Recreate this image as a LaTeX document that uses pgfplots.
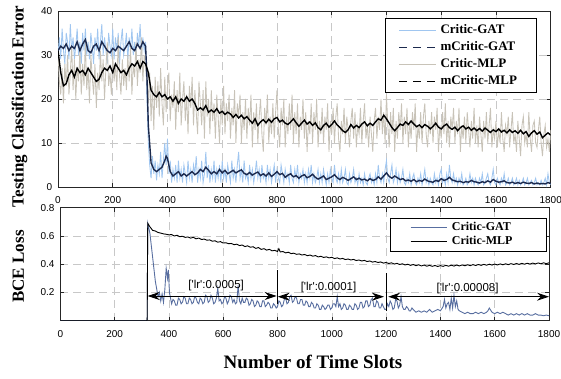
\documentclass[border=0pt]{standalone}
\usepackage{pgfplots}
\pgfplotsset{compat=1.18}
\usetikzlibrary{arrows.meta}
\usepackage{fontspec}
\setmainfont{Liberation Serif}
\setsansfont{Liberation Sans}
\definecolor{gatraw}{RGB}{160,198,240}
\definecolor{gatavg}{RGB}{28,42,78}
\definecolor{mlpraw}{RGB}{200,195,184}
\definecolor{gatbce}{RGB}{88,110,160}
\definecolor{gridc}{RGB}{200,200,200}
\pgfplotsset{
  mystyle/.style={
    scale only axis,
    xmin=0, xmax=1800,
    xtick={0,200,...,1800},
    tick align=inside,
    major tick length=4pt,
    axis line style={black!85, line width=0.6pt},
    every tick/.style={black!85, line width=0.6pt},
    grid=major,
    major grid style={gridc, dash pattern=on 8pt off 5pt, line width=0.5pt},
    tick label style={font=\sffamily\fontsize{10}{12}\selectfont},
    /pgf/number format/assume math mode=true,
    /pgf/number format/1000 sep={},
    xticklabel style={yshift=-6pt},
    yticklabel style={xshift=-2.3pt},
  }
}
\tikzset{myarrow/.style={{Stealth[length=12pt,width=8pt,inset=4pt]}-{Stealth[length=12pt,width=8pt,inset=4pt]}}}
\begin{document}
\begin{tikzpicture}
\path[use as bounding box] (0pt,0pt) rectangle (561pt,-378pt);
% ---------------- top axis ----------------
\begin{axis}[mystyle,
  at={(58pt,-187pt)}, anchor=south west,
  width=492.7pt, height=176pt,
  ymin=0, ymax=40, ytick={0,10,20,30,40},
  legend style={at={(0.6643,0.9585)}, anchor=north west, draw=black, line width=0.6pt, fill=white,
    inner xsep=13pt, inner ysep=3pt, row sep=0pt,
    font=\bfseries\fontsize{13}{15}\selectfont,
    nodes={inner xsep=4.3pt, inner ysep=2pt, text height=10pt, text depth=3pt, text width=78pt, align=left}},
  legend cell align=left,
  legend image code/.code={\draw[#1] (0pt,0pt) -- (36.7pt,0pt);},
]
\addplot[gatraw, line width=0.85pt, forget plot] coordinates {
(0,30)(5,34)(10,29)(15,36)(20,31)(25,28)(30,35)(35,33)(40,29)(45,37)(50,31)(55,34)(60,29)(65,32)(70,36)(75,30)(80,33)(85,28)(90,35)(95,31)(100,36)(105,30)(110,33)(115,29)(120,35)(125,32)(130,28)(135,34)(140,31)(145,36)(150,29)(155,33)(160,37)(165,30)(170,34)(175,31)(180,28)(185,35)(190,32)(195,30)(200,36)(205,29)(210,34)(215,31)(220,35)(225,28)(230,33)(235,36)(240,30)(245,32)(250,35)(255,29)(260,34)(265,31)(270,36)(275,30)(280,33)(285,29)(290,35)(295,32)(300,37)(305,30)(310,34)(315,31)(320,33)
(325,20)(330,10)(335,5)(340,2)(345,7)(350,3)(355,6)(360,1.5)(365,5)(370,3)(375,8)(380,2)(385,6)(390,10)(395,5)(400,11)(405,3)(410,6)(415,1)(420,4)(425,2)(430,5)(435,1)(440,6)(445,2)(450,4)(455,1)(460,5)(465,3)(470,1)(475,6)(480,2)(485,4)(490,1)(495,5)(500,3)(505,7)(510,1)(515,4)(520,2)(525,6)(530,1)(535,3)(540,8)(545,2)(550,5)(555,1)(560,4)(565,2)(570,6)(575,1)(580,4)(585,2)(590,5)(595,1)(600,6)(605,2)(610,4)(615,1)(620,5)(625,3)(630,1)(635,6)(640,2)(645,4)(650,1)(655,5)(660,8)(665,2)(670,4)(675,1)(680,6)(685,2)(690,3)(695,1)(700,5)(705,2)(710,4)(715,1)(720,3)(725,6)(730,2)(735,4)(740,1)(745,5)(750,2)(755,3)(760,1)(765,5)(770,2)(775,4)(780,1)(785,3)(790,5)(795,1)
(800,4)(805,2)(810,1)(815,5)(820,3)(825,1)(830,4)(835,2)(840,3)(845,1)(850,5)(855,2)(860,1)(865,4)(870,2)(875,5)(880,1)(885,3)(890,2)(895,4)(900,1)(905,3)(910,1)(915,4)(920,2)(925,5)(930,1)(935,3)(940,1)(945,2)(950,4)(955,1)(960,3)(965,1)(970,4)(975,2)(980,0.5)(985,3)(990,1)(995,4)(1000,2)(1005,1)(1010,5)(1015,2)(1020,1)(1025,3)(1030,1)(1035,4)(1040,1)(1045,2)(1050,4)(1055,1)(1060,0.5)(1065,3)(1070,1)(1075,2)(1080,4)(1085,1)(1090,2)(1095,0.5)(1100,3)(1105,1)(1110,2)(1115,0.5)(1120,3)(1125,1)(1130,0.5)(1135,2)(1140,3)(1145,1)(1150,2)(1155,0.5)(1160,3)(1165,1)(1170,5)(1175,2)(1180,1)(1185,3)(1190,1)(1195,4)
(1200,6)(1205,2)(1210,1)(1215,3)(1220,5)(1225,1)(1230,2)(1235,4)(1240,1)(1245,3)(1250,1)(1255,2)(1260,4)(1265,1)(1270,0.5)(1275,2)(1280,1)(1285,3)(1290,0.5)(1295,2)(1300,3)(1305,1)(1310,0.5)(1315,2)(1320,1)(1325,3)(1330,0.5)(1335,2)(1340,4)(1345,1)(1350,2)(1355,0.5)(1360,2)(1365,1)(1370,0.5)(1375,3)(1380,1)(1385,2)(1390,0.5)(1395,3)(1400,4)(1405,1)(1410,2)(1415,0.5)(1420,3)(1425,1)(1430,5)(1435,2)(1440,1)(1445,3)(1450,1)(1455,2)(1460,0.5)(1465,2)(1470,1)(1475,3)(1480,0.5)(1485,1)(1490,2)(1495,0.5)(1500,1)(1505,3)(1510,1)(1515,2)(1520,0.5)(1525,2)(1530,1)(1535,0.5)(1540,2)(1545,1)(1550,3)(1555,0.5)(1560,1)(1565,2)(1570,3)(1575,1)(1580,0.5)(1585,2)(1590,4)(1595,1)
(1600,0.5)(1605,2)(1610,1)(1615,0.5)(1620,2)(1625,1)(1630,3)(1635,0.5)(1640,1)(1645,2)(1650,0.5)(1655,1)(1660,2)(1665,0.5)(1670,1)(1675,2)(1680,0.5)(1685,1.5)(1690,0.5)(1695,1)(1700,2)(1705,0.5)(1710,1)(1715,2)(1720,0.5)(1725,1)(1730,1.5)(1735,0.5)(1740,1)(1745,2)(1750,0.5)(1755,1)(1760,0.5)(1765,1.5)(1770,0.5)(1775,1)(1780,2)(1785,0.5)(1790,3)(1795,1)(1800,0.5)
};
\addplot[mlpraw, line width=0.85pt, forget plot] coordinates {
(0,31)(5,24)(10,21)(15,27)(20,19)(25,28)(30,23)(35,30)(40,21)(45,26)(50,32)(55,22)(60,29)(65,20)(70,27)(75,24)(80,31)(85,21)(90,28)(95,23)(100,33)(105,22)(110,27)(115,19)(120,30)(125,25)(130,21)(135,28)(140,18)(145,26)(150,22)(155,31)(160,24)(165,29)(170,20)(175,27)(180,33)(185,23)(190,26)(195,21)(200,30)(205,24)(210,28)(215,22)(220,34)(225,25)(230,21)(235,29)(240,23)(245,27)(250,22)(255,30)(260,24)(265,32)(270,21)(275,28)(280,25)(285,33)(290,23)(295,29)(300,26)(305,34)(310,24)(315,30)(320,27)
(325,24)(330,19)(335,26)(340,15)(345,23)(350,13)(355,25)(360,18)(365,24)(370,16)(375,27)(380,19)(385,14)(390,25)(395,17)(400,23)(405,26)(410,15)(415,21)(420,18)(425,24)(430,13)(435,22)(440,17)(445,26)(450,14)(455,20)(460,24)(465,15)(470,21)(475,12)(480,23)(485,18)(490,25)(495,14)(500,22)(505,17)(510,12)(515,24)(520,19)(525,14)(530,22)(535,11)(540,24)(545,16)(550,20)(555,12)(560,22)(565,15)(570,19)(575,11)(580,21)(585,16)(590,10)(595,20)(600,14)(605,23)(610,12)(615,19)(620,15)(625,21)(630,11)(635,18)(640,14)(645,22)(650,10)(655,19)(660,16)(665,21)(670,10)(675,17)(680,13)(685,20)(690,11)(695,18)(700,14)(705,21)(710,9)(715,17)(720,13)(725,19)(730,10)(735,16)(740,20)(745,12)(750,8)(755,18)(760,14)(765,21)(770,10)(775,16)(780,12)(785,19)(790,11)(795,17)
(800,22)(805,13)(810,9)(815,18)(820,14)(825,20)(830,9)(835,16)(840,12)(845,19)(850,13)(855,21)(860,10)(865,17)(870,12)(875,19)(880,9)(885,16)(890,13)(895,20)(900,11)(905,17)(910,8)(915,15)(920,12)(925,19)(930,10)(935,17)(940,13)(945,20)(950,9)(955,15)(960,12)(965,18)(970,10)(975,16)(980,13)(985,19)(990,8)(995,15)(1000,12)(1005,18)(1010,10)(1015,16)(1020,19)(1025,11)(1030,8)(1035,15)(1040,12)(1045,18)(1050,10)(1055,16)(1060,13)(1065,9)(1070,15)(1075,18)(1080,11)(1085,17)(1090,9)(1095,14)(1100,12)(1105,18)(1110,10)(1115,15)(1120,19)(1125,11)(1130,14)(1135,9)(1140,16)(1145,12)(1150,8)(1155,15)(1160,18)(1165,11)(1170,16)(1175,13)(1180,20)(1185,12)(1190,17)(1195,10)
(1200,21)(1205,14)(1210,9)(1215,17)(1220,12)(1225,18)(1230,8)(1235,15)(1240,11)(1245,17)(1250,13)(1255,19)(1260,10)(1265,16)(1270,12)(1275,18)(1280,9)(1285,15)(1290,11)(1295,17)(1300,13)(1305,19)(1310,8)(1315,14)(1320,11)(1325,17)(1330,10)(1335,16)(1340,19)(1345,12)(1350,9)(1355,15)(1360,12)(1365,17)(1370,10)(1375,16)(1380,13)(1385,18)(1390,8)(1395,14)(1400,11)(1405,17)(1410,12)(1415,19)(1420,10)(1425,15)(1430,9)(1435,16)(1440,13)(1445,18)(1450,10)(1455,15)(1460,12)(1465,18)(1470,8)(1475,14)(1480,11)(1485,16)(1490,10)(1495,17)(1500,13)(1505,9)(1510,15)(1515,11)(1520,18)(1525,10)(1530,14)(1535,9)(1540,16)(1545,12)(1550,8)(1555,15)(1560,11)(1565,17)(1570,10)(1575,14)(1580,18)(1585,9)(1590,13)(1595,11)
(1600,15)(1605,9)(1610,13)(1615,10)(1620,17)(1625,11)(1630,8)(1635,14)(1640,12)(1645,16)(1650,9)(1655,13)(1660,17)(1665,10)(1670,12)(1675,8)(1680,15)(1685,11)(1690,7)(1695,14)(1700,16)(1705,10)(1710,12)(1715,9)(1720,17)(1725,11)(1730,8)(1735,14)(1740,15)(1745,10)(1750,9)(1755,13)(1760,16)(1765,10)(1770,7)(1775,12)(1780,14)(1785,9)(1790,11)(1795,8)(1800,13)
};
\addplot[gatavg, line width=1.4pt, forget plot] coordinates {
(0,31)(10,32)(20,31.5)(30,32.5)(40,31)(50,32)(60,31.5)(70,33)(80,31)(90,32.5)(100,33.5)(110,31)(120,30.5)(130,32)(140,32.5)(150,31)(160,33)(170,32)(180,31)(190,30.5)(200,31.5)(210,31)(220,32)(230,31.5)(240,31)(250,32)(260,33)(270,31.5)(280,31)(290,32.5)(300,31.5)(310,33)(320,32)(325,25)(330,14)(340,5.5)(350,4)(360,3.5)(370,4)(380,4.5)(390,6)(395,7)(400,6.5)(410,3.5)(420,2.5)(430,3)(440,3.5)(450,2.5)(460,3)(470,2.5)(480,3)(490,3.5)(500,2.8)(510,3.2)(520,4)(530,3.5)(540,4.5)(550,3.8)(560,3)(570,3.5)(580,3)(590,4)(600,3.2)(610,3.8)(620,3)(630,3.4)(640,3.8)(650,3.2)(660,3.6)(670,3.9)(680,3.1)(690,2.8)(700,3.3)(710,2.7)(720,3.1)(730,3.4)(740,2.6)(750,3)(760,2.5)(770,3.2)(780,2.4)(790,2.9)(800,3.5)(810,2.8)(820,3.1)(830,2.2)(840,2.7)(850,3)(860,2.3)(870,2.6)(880,2)(890,2.5)(900,2.8)(910,2.1)(920,2.4)(930,2.9)(940,2.2)(950,1.8)(960,2.1)(970,2.5)(980,1.7)(990,2)(1000,2.3)(1010,2.8)(1020,2.1)(1030,1.7)(1040,2.2)(1050,1.9)(1060,1.5)(1070,1.9)(1080,2.3)(1090,1.7)(1100,2)(1110,1.6)(1120,1.8)(1130,1.4)(1140,1.9)(1150,1.5)(1160,1.7)(1170,2.3)(1180,1.8)(1190,2.5)(1200,3.2)(1210,2.4)(1220,2)(1230,2.5)(1240,2.1)(1250,1.7)(1260,1.9)(1270,1.4)(1280,1.6)(1290,1.3)(1300,1.7)(1310,1.2)(1320,1.5)(1330,1.3)(1340,1.8)(1350,1.4)(1360,1.2)(1370,1.1)(1380,1.5)(1390,1.3)(1400,1.9)(1410,1.5)(1420,1.7)(1430,2.2)(1440,1.6)(1450,1.4)(1460,1.2)(1470,1.3)(1480,1)(1490,1.2)(1500,1.1)(1510,1.5)(1520,1.2)(1530,1.1)(1540,0.9)(1550,1.2)(1560,1)(1570,1.4)(1580,1.1)(1590,1.7)(1600,1.3)(1610,1.1)(1620,1.2)(1630,1.4)(1640,1)(1650,0.9)(1660,1.1)(1670,0.8)(1680,1)(1690,0.8)(1700,1.1)(1710,0.9)(1720,0.8)(1730,1)(1740,0.7)(1750,0.9)(1760,0.7)(1770,0.8)(1780,0.7)(1790,1)(1800,0.8)
};
\addplot[black, line width=1.4pt, forget plot] coordinates {
(0,31)(10,26)(20,23)(30,23.5)(40,25.5)(50,26.5)(60,25)(70,27)(80,26)(90,26.5)(100,25.5)(110,27)(120,26)(130,25)(140,24)(150,24.5)(160,26)(170,27)(180,26.5)(190,27.5)(200,26)(210,28)(220,27)(230,26)(240,26.5)(250,25.5)(260,27)(270,28)(280,27.5)(290,28.5)(300,27)(310,28.5)(320,28)(330,26)(340,22)(350,21)(360,20.5)(370,21.5)(380,20.5)(390,21)(400,20)(410,20.5)(420,19.5)(430,20.5)(440,19)(450,20)(460,19.5)(470,20.5)(480,19.5)(490,20)(500,19)(510,17.5)(520,18)(530,17.5)(540,18.5)(550,17)(560,17.5)(570,17)(580,17.8)(590,16.8)(600,17.2)(610,16.5)(620,17)(630,16.6)(640,15.8)(650,16.5)(660,15.7)(670,16.3)(680,15.5)(690,16)(700,15.2)(710,14.5)(720,15.5)(730,14)(740,14.8)(750,15.3)(760,14.6)(770,15.4)(780,14.7)(790,15.5)(800,15.8)(810,14.8)(820,15.2)(830,14.5)(840,14.2)(850,14.8)(860,15.5)(870,14.6)(880,13.8)(890,14.5)(900,15.2)(910,14.3)(920,14.8)(930,14)(940,14.6)(950,13.5)(960,13)(970,14)(980,14.5)(990,13.6)(1000,14.2)(1010,15)(1020,14.1)(1030,13.5)(1040,12.8)(1050,12.4)(1060,13)(1070,14.2)(1080,13.4)(1090,14)(1100,13.5)(1110,14.3)(1120,14.8)(1130,13.9)(1140,14.5)(1150,14)(1160,14.8)(1170,15.5)(1180,15.2)(1190,16.3)(1200,15.5)(1210,14.5)(1220,13.5)(1230,12.8)(1240,13.5)(1250,14.3)(1260,14)(1270,14.8)(1280,14.2)(1290,15)(1300,14.3)(1310,13.7)(1320,14.1)(1330,13.5)(1340,14.2)(1350,13.8)(1360,13.2)(1370,13.8)(1380,14.5)(1390,13.6)(1400,13.2)(1410,13.9)(1420,14.3)(1430,13.5)(1440,13.1)(1450,13.6)(1460,12.8)(1470,13.5)(1480,13.9)(1490,13.2)(1500,13.6)(1510,12.9)(1520,13.4)(1530,12.8)(1540,13.3)(1550,12.7)(1560,13.4)(1570,12.9)(1580,12.4)(1590,13)(1600,12.6)(1610,13.2)(1620,12.5)(1630,12.9)(1640,12.3)(1650,13)(1660,12.4)(1670,12.8)(1680,12.2)(1690,12.9)(1700,12.1)(1710,12.6)(1720,11.5)(1730,12.3)(1740,12.8)(1750,12)(1760,12.5)(1770,11.2)(1780,11.8)(1790,12.3)(1800,11.8)
};
\addlegendimage{gatraw, line width=0.9pt}
\addlegendentry{Critic-GAT}
\addlegendimage{gatavg, line width=0.9pt, dash pattern=on 8pt off 6pt}
\addlegendentry{mCritic-GAT}
\addlegendimage{mlpraw, line width=0.9pt}
\addlegendentry{Critic-MLP}
\addlegendimage{black, line width=0.9pt, dash pattern=on 8pt off 6pt}
\addlegendentry{mCritic-MLP}
\end{axis}
% ---------------- bottom axis ----------------
\begin{axis}[mystyle,
  at={(60.3pt,-320.7pt)}, anchor=south west,
  width=488.7pt, height=113pt,
  ymin=0, ymax=0.8, ytick={0.2,0.4,0.6,0.8},
  yticklabel style={/pgf/number format/fixed, /pgf/number format/fixed zerofill, /pgf/number format/precision=1},
  legend style={at={(0.6746,0.906)}, anchor=north west, draw=black, line width=0.6pt, fill=white,
    inner xsep=20pt, inner ysep=2.2pt, row sep=0pt,
    font=\bfseries\fontsize{12}{14}\selectfont,
    nodes={inner xsep=4pt, inner ysep=1pt, text height=9pt, text depth=3pt, text width=70pt, align=left}},
  legend cell align=left,
  legend image code/.code={\draw[#1] (0pt,0pt) -- (36.7pt,0pt);},
]
\addplot[gatbce, line width=0.9pt] coordinates {
(0,0)(320,0)(322,0.69)(330,0.62)(340,0.45)(350,0.28)(360,0.17)(365,0.2)(370,0.14)(375,0.19)(380,0.13)(385,0.22)(390,0.37)(395,0.3)(398,0.36)(402,0.2)(410,0.12)(415,0.15)(420,0.14)(425,0.11)(430,0.11)(435,0.16)(440,0.15)(445,0.12)(450,0.13)(455,0.17)(460,0.16)(465,0.12)(470,0.12)(475,0.16)(480,0.15)(485,0.12)(490,0.13)(495,0.17)(500,0.16)(505,0.13)(510,0.12)(515,0.16)(520,0.15)(525,0.12)(530,0.13)(535,0.18)(540,0.17)(545,0.13)(550,0.14)(555,0.18)(560,0.16)(565,0.12)(570,0.13)(575,0.16)(580,0.23)(585,0.14)(590,0.15)(595,0.12)(600,0.13)(605,0.17)(610,0.16)(615,0.12)(620,0.14)(625,0.18)(630,0.17)(635,0.13)(640,0.15)(645,0.12)(650,0.13)(655,0.25)(660,0.14)(665,0.12)(670,0.16)(675,0.13)(680,0.13)(685,0.16)(690,0.15)(695,0.11)(700,0.12)(705,0.15)(710,0.14)(715,0.1)(720,0.11)(725,0.14)(730,0.13)(735,0.1)(740,0.1)(745,0.14)(750,0.14)(755,0.1)(760,0.11)(765,0.13)(770,0.12)(775,0.09)(780,0.09)(785,0.12)(790,0.11)(795,0.09)(800,0.1)(805,0.14)(810,0.13)(815,0.1)(820,0.11)(825,0.15)(830,0.16)(835,0.12)(840,0.13)(845,0.17)(850,0.18)(855,0.13)(860,0.14)(865,0.17)(870,0.16)(875,0.12)(880,0.12)(885,0.15)(890,0.15)(895,0.11)(900,0.11)(905,0.14)(910,0.13)(915,0.1)(920,0.1)(925,0.13)(930,0.12)(935,0.09)(940,0.09)(945,0.12)(950,0.11)(955,0.08)(960,0.08)(965,0.11)(970,0.1)(975,0.08)(980,0.09)(985,0.11)(990,0.11)(995,0.08)(1000,0.09)(1005,0.12)(1010,0.12)(1015,0.1)(1020,0.17)(1025,0.1)(1030,0.12)(1035,0.08)(1040,0.09)(1045,0.12)(1050,0.11)(1055,0.08)(1060,0.08)(1065,0.11)(1070,0.1)(1075,0.08)(1080,0.08)(1085,0.12)(1090,0.11)(1095,0.08)(1100,0.09)(1105,0.13)(1110,0.13)(1115,0.09)(1120,0.1)(1125,0.14)(1130,0.14)(1135,0.1)(1140,0.11)(1145,0.15)(1150,0.16)(1155,0.1)(1160,0.1)(1165,0.14)(1170,0.13)(1175,0.09)(1180,0.09)(1185,0.12)(1190,0.1)(1195,0.08)(1200,0.08)(1205,0.12)(1210,0.1)(1215,0.14)(1220,0.12)(1225,0.08)(1230,0.09)(1235,0.15)(1240,0.14)(1245,0.09)(1250,0.11)(1255,0.17)(1260,0.1)(1265,0.08)(1270,0.08)(1275,0.1)(1280,0.09)(1285,0.07)(1290,0.07)(1295,0.09)(1300,0.08)(1310,0.06)(1320,0.07)(1330,0.06)(1340,0.07)(1350,0.06)(1360,0.08)(1370,0.06)(1380,0.07)(1390,0.08)(1400,0.07)(1410,0.1)(1415,0.15)(1420,0.09)(1425,0.12)(1430,0.13)(1435,0.08)(1440,0.16)(1445,0.09)(1450,0.18)(1455,0.1)(1460,0.14)(1465,0.08)(1470,0.07)(1480,0.06)(1490,0.05)(1500,0.06)(1510,0.05)(1520,0.05)(1530,0.06)(1540,0.05)(1550,0.06)(1560,0.05)(1570,0.06)(1575,0.07)(1580,0.09)(1590,0.06)(1600,0.05)(1610,0.06)(1620,0.05)(1630,0.06)(1640,0.05)(1650,0.04)(1660,0.05)(1670,0.04)(1680,0.05)(1690,0.04)(1700,0.05)(1710,0.04)(1720,0.05)(1730,0.04)(1740,0.04)(1750,0.05)(1760,0.04)(1770,0.04)(1780,0.035)(1790,0.04)(1800,0.035)
};
\addlegendentry{Critic-GAT}
\addplot[black, line width=0.9pt] coordinates {
(0,0)(320,0)(322,0.69)(330,0.665)(340,0.64)(350,0.635)(360,0.625)(370,0.62)(380,0.615)(390,0.612)(400,0.608)(410,0.61)(420,0.6)(430,0.605)(440,0.595)(450,0.598)(460,0.59)(470,0.593)(480,0.585)(490,0.59)(500,0.58)(510,0.585)(520,0.575)(530,0.578)(540,0.57)(550,0.572)(560,0.563)(570,0.566)(580,0.556)(590,0.56)(600,0.55)(610,0.552)(620,0.545)(630,0.547)(640,0.538)(650,0.542)(660,0.532)(670,0.536)(680,0.525)(690,0.53)(700,0.52)(710,0.524)(720,0.512)(730,0.518)(740,0.505)(750,0.51)(760,0.5)(770,0.505)(780,0.495)(790,0.498)(800,0.49)(805,0.51)(810,0.487)(820,0.49)(830,0.48)(840,0.485)(850,0.475)(860,0.478)(870,0.47)(880,0.473)(890,0.465)(900,0.469)(910,0.46)(920,0.465)(930,0.457)(940,0.461)(950,0.452)(960,0.456)(970,0.448)(980,0.452)(990,0.445)(1000,0.449)(1010,0.44)(1020,0.445)(1030,0.437)(1040,0.441)(1050,0.433)(1060,0.437)(1070,0.43)(1080,0.434)(1090,0.426)(1100,0.43)(1110,0.423)(1120,0.427)(1130,0.419)(1140,0.423)(1150,0.415)(1160,0.419)(1170,0.412)(1180,0.416)(1190,0.408)(1200,0.412)(1210,0.405)(1220,0.41)(1230,0.401)(1240,0.406)(1250,0.398)(1260,0.403)(1270,0.395)(1280,0.4)(1290,0.392)(1300,0.398)(1310,0.39)(1320,0.396)(1330,0.388)(1340,0.394)(1350,0.386)(1360,0.392)(1370,0.385)(1380,0.391)(1390,0.384)(1400,0.39)(1410,0.385)(1420,0.392)(1430,0.386)(1440,0.393)(1450,0.387)(1460,0.394)(1470,0.388)(1480,0.395)(1490,0.389)(1500,0.396)(1510,0.39)(1520,0.397)(1530,0.391)(1540,0.398)(1550,0.392)(1560,0.399)(1570,0.393)(1580,0.4)(1590,0.394)(1600,0.401)(1610,0.395)(1620,0.402)(1630,0.396)(1640,0.403)(1650,0.397)(1660,0.404)(1670,0.398)(1680,0.405)(1690,0.399)(1700,0.406)(1710,0.4)(1720,0.407)(1730,0.401)(1740,0.408)(1750,0.402)(1760,0.409)(1770,0.403)(1780,0.41)(1790,0.404)(1800,0.41)
};
\addlegendentry{Critic-MLP}
% annotations
\addplot[black, line width=0.9pt, forget plot] coordinates {(800,0.12) (800,0.36)};
\addplot[black, line width=0.9pt, forget plot] coordinates {(1200,0.07) (1200,0.335)};
\addplot[black, line width=0.9pt, forget plot, myarrow] coordinates {(322,0.175) (797,0.175)};
\addplot[black, line width=0.9pt, forget plot, myarrow] coordinates {(801,0.17) (1192,0.17)};
\addplot[black, line width=0.9pt, forget plot, myarrow] coordinates {(1208,0.17) (1800,0.17)};
\node[anchor=base, font=\sffamily\fontsize{11.5}{13}\selectfont, inner sep=0pt] at (axis cs:574,0.2265) {[\textquotesingle lr\textquotesingle:0.0005]};
\node[anchor=base, font=\sffamily\fontsize{11.5}{13}\selectfont, inner sep=0pt] at (axis cs:988,0.217) {[\textquotesingle lr\textquotesingle:0.0001]};
\node[anchor=base, font=\sffamily\fontsize{11.5}{13}\selectfont, inner sep=0pt] at (axis cs:1500,0.205) {[\textquotesingle lr\textquotesingle:0.00008]};
\end{axis}
% axis titles
\node[rotate=90, anchor=base, font=\bfseries\fontsize{17}{20}\selectfont, inner sep=0pt] at (23.5pt,-106.5pt) {Testing Classification Error};
\node[rotate=90, anchor=base, font=\bfseries\fontsize{17}{20}\selectfont, inner sep=0pt] at (23.8pt,-266.5pt) {BCE Loss};
\node[anchor=base, font=\bfseries\fontsize{19}{22}\selectfont, inner sep=0pt] at (313pt,-368pt) {Number of Time Slots};
\end{tikzpicture}
\end{document}
